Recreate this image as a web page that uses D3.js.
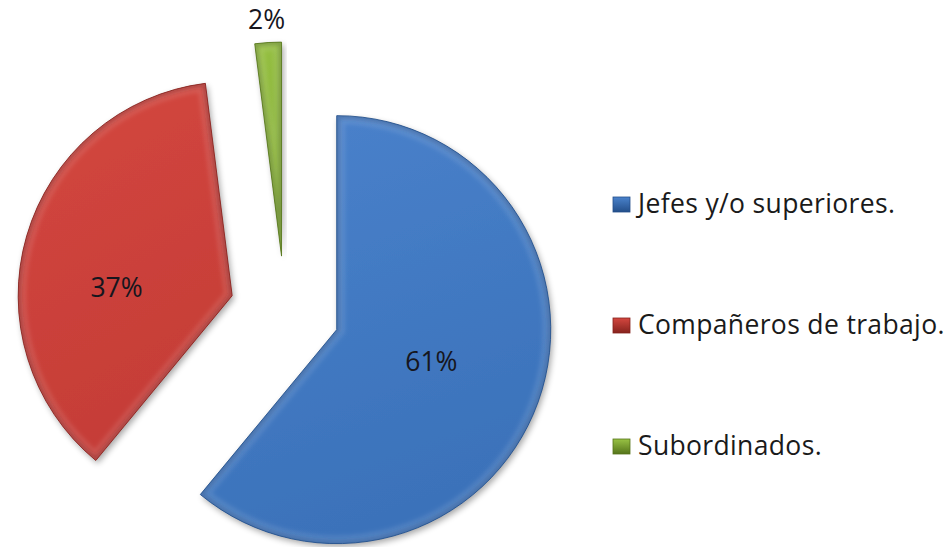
<!DOCTYPE html>
<html>
<head>
<meta charset="utf-8">
<script src="https://cdn.jsdelivr.net/npm/d3@7"></script>
<style>
  body { margin: 0; background: #ffffff; }
  svg { display: block; }
</style>
</head>
<body>
<svg id="chart" width="952" height="547"></svg>
<script>
// Survey shares by group
const categories = ["Jefes y/o superiores.", "Compañeros de trabajo.", "Subordinados."];
const values = [61, 37, 2];
const valueLabels = ["61%", "37%", "2%"];

// Slice palette: base, light and dark shades
const baseColors  = ["#3b72ba", "#c53d37", "#80aa2f"];
const lightColors = ["#4a82cc", "#d4473f", "#98c244"];
const darkColors  = ["#234f8a", "#86221d", "#55741a"];

const cx = 285, cy = 311;      // pie centre
const R = 214;                 // outer radius
const explode = 55;            // distance each slice is pulled out
const FONT = "'Open Sans', 'Noto Sans', sans-serif";
const FONT_SIZE = 26.5;

const svg = d3.select("#chart");
const defs = svg.append("defs");

// soft shadow below the slices
const shadow = defs.append("filter").attr("id", "shadow")
  .attr("x", "-20%").attr("y", "-20%").attr("width", "140%").attr("height", "140%");
shadow.append("feGaussianBlur").attr("in", "SourceAlpha").attr("stdDeviation", 3).attr("result", "b");
shadow.append("feOffset").attr("in", "b").attr("dx", 2).attr("dy", 3).attr("result", "o");
shadow.append("feComponentTransfer").attr("in", "o").attr("result", "s")
  .append("feFuncA").attr("type", "linear").attr("slope", 0.35);
const merge = shadow.append("feMerge");
merge.append("feMergeNode").attr("in", "s");
merge.append("feMergeNode").attr("in", "SourceGraphic");

const bevelBlur = defs.append("filter").attr("id", "bevelBlur");
bevelBlur.append("feGaussianBlur").attr("stdDeviation", 2.2);

const pie = d3.pie().sort(null).value(d => d).startAngle(0).endAngle(2 * Math.PI);
const arcs = pie(values);
const arc = d3.arc().innerRadius(0).outerRadius(R);

// gentle top-to-bottom gradient per slice
baseColors.forEach((c, i) => {
  const g = defs.append("linearGradient").attr("id", "grad" + i)
    .attr("x1", 0).attr("y1", 0).attr("x2", 0.3).attr("y2", 1);
  g.append("stop").attr("offset", "0%").attr("stop-color", lightColors[i]);
  g.append("stop").attr("offset", "100%").attr("stop-color", baseColors[i]);
});

function offsetOf(d) {
  const a = (d.startAngle + d.endAngle) / 2;
  return [explode * Math.sin(a), -explode * Math.cos(a)];
}

const slices = svg.append("g").attr("transform", `translate(${cx},${cy})`);

arcs.forEach((d, i) => {
  const [ox, oy] = offsetOf(d);
  const g = slices.append("g").attr("transform", `translate(${ox},${oy})`);
  const path = arc(d);

  defs.append("clipPath").attr("id", "clip" + i).append("path").attr("d", path);

  g.append("path").attr("d", path)
    .attr("fill", `url(#grad${i})`)
    .attr("filter", "url(#shadow)");

  // bevel: dark rim and a soft light band, kept inside the slice
  const bevel = g.append("g").attr("clip-path", `url(#clip${i})`);
  bevel.append("path").attr("d", path)
    .attr("fill", "none")
    .attr("stroke", darkColors[i])
    .attr("stroke-width", 6)
    .attr("stroke-opacity", 0.6)
    .attr("filter", "url(#bevelBlur)");
  bevel.append("path").attr("d", path)
    .attr("fill", "none")
    .attr("stroke", "#ffffff")
    .attr("stroke-width", 16)
    .attr("stroke-opacity", 0.12)
    .attr("filter", "url(#bevelBlur)");

  g.append("path").attr("d", path)
    .attr("fill", "none")
    .attr("stroke", darkColors[i])
    .attr("stroke-width", 1)
    .attr("stroke-opacity", 0.85);
});

// value labels: inside for the large slices, outside the tip for the small one
const labelArc = d3.arc().innerRadius(R * 0.48).outerRadius(R * 0.48);
const nudge = [[-2, -3], [-17, 20], [0, 0]];
arcs.forEach((d, i) => {
  const [ox, oy] = offsetOf(d);
  let x, y;
  if (d.endAngle - d.startAngle > 0.3) {
    [x, y] = labelArc.centroid(d);
  } else {
    const a = (d.startAngle + d.endAngle) / 2;
    x = (R + 24) * Math.sin(a);
    y = -(R + 24) * Math.cos(a);
  }
  slices.append("text")
    .attr("x", x + ox + nudge[i][0])
    .attr("y", y + oy + nudge[i][1])
    .attr("text-anchor", "middle")
    .attr("dominant-baseline", "central")
    .attr("font-family", FONT)
    .attr("font-size", FONT_SIZE)
    .attr("fill", "#16161e")
    .text(valueLabels[i]);
});

// legend
const legendY = d3.scalePoint().domain(categories).range([203, 445]);
const legend = svg.append("g");
categories.forEach((c, i) => {
  const y = legendY(c);
  const g = defs.append("linearGradient").attr("id", "lg" + i)
    .attr("x1", 0).attr("y1", 0).attr("x2", 0).attr("y2", 1);
  g.append("stop").attr("offset", "0%").attr("stop-color", lightColors[i]);
  g.append("stop").attr("offset", "100%").attr("stop-color", darkColors[i]);
  legend.append("rect")
    .attr("x", 613).attr("y", y - 6).attr("width", 17).attr("height", 15)
    .attr("fill", `url(#lg${i})`)
    .attr("stroke", darkColors[i]).attr("stroke-width", 0.8);
  legend.append("text")
    .attr("x", 638).attr("y", y)
    .attr("dominant-baseline", "central")
    .attr("font-family", FONT)
    .attr("font-size", FONT_SIZE)
    .attr("letter-spacing", 0.35)
    .attr("fill", "#1a1a1a")
    .text(c);
});
</script>
</body>
</html>
